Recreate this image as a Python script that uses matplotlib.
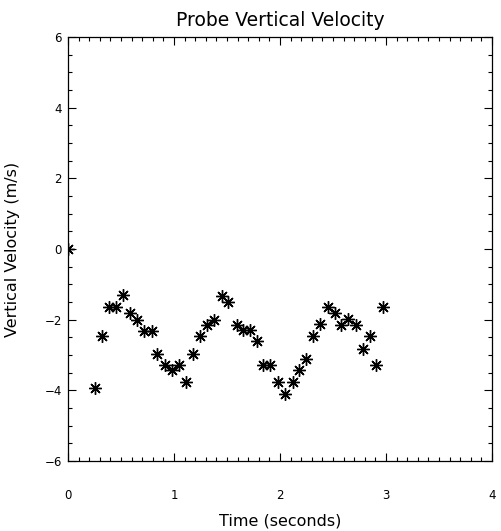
import matplotlib
matplotlib.use('Agg')
import matplotlib.pyplot as plt
from matplotlib.ticker import MultipleLocator

# time (s) and vertical velocity (m/s)
time_s = [0.0, 0.255, 0.318, 0.39, 0.453, 0.52, 0.585, 0.654, 0.72, 0.79,
          0.843, 0.915, 0.978, 1.047, 1.113, 1.18, 1.245, 1.314, 1.377, 1.45,
          1.512, 1.59, 1.648, 1.717, 1.78, 1.84, 1.91, 1.98, 2.05, 2.12,
          2.18, 2.25, 2.31, 2.38, 2.45, 2.516, 2.58, 2.645, 2.714, 2.78,
          2.85, 2.91, 2.975]
velocity = [0.0, -3.92, -2.46, -1.64, -1.64, -1.30, -1.81, -2.01, -2.32, -2.32,
            -2.96, -3.27, -3.43, -3.27, -3.76, -2.96, -2.47, -2.16, -2.0, -1.32,
            -1.49, -2.14, -2.30, -2.30, -2.61, -3.29, -3.29, -3.76, -4.11, -3.76,
            -3.43, -3.10, -2.47, -2.13, -1.65, -1.81, -2.14, -1.97, -2.14, -2.82,
            -2.46, -3.29, -1.65]

x_ticks = [0, 1, 2, 3, 4]
y_ticks = [-6, -4, -2, 0, 2, 4, 6]

fig = plt.figure(figsize=(5.02, 5.31), dpi=100)
ax = fig.add_axes([68/502, 70/531, 424/502, 424/531])

line, = ax.plot(time_s, velocity, linestyle='none', marker=(8, 2, 0),
                markersize=9, markeredgewidth=1.0, color='black')
# clip the half marker sitting on the left axis
line.set_clip_path(ax.patch)

ax.set_xlim(0, 4)
ax.set_ylim(-6, 6)
ax.set_xticks(x_ticks)
ax.set_yticks(y_ticks)
ax.xaxis.set_minor_locator(MultipleLocator(0.1))
ax.yaxis.set_minor_locator(MultipleLocator(0.5))
ax.tick_params(which='both', direction='in', top=True, right=True,
               width=0.8, color='black', labelsize=8.5)
ax.tick_params(which='major', length=6)
ax.tick_params(which='minor', length=3)
ax.tick_params(axis='x', pad=20)
ax.tick_params(axis='y', pad=4.5)

for s in ax.spines.values():
    s.set_linewidth(0.9)

ax.set_title('Probe Vertical Velocity', fontsize=13.5, pad=8)
ax.set_xlabel('Time (seconds)', fontsize=11.5)
ax.set_ylabel('Vertical Velocity (m/s)', fontsize=11.5)
ax.xaxis.set_label_coords(0.5, -0.1415)
ax.xaxis.label.set_va('center')
ax.yaxis.set_label_coords(-0.132, 0.5)
ax.yaxis.label.set_va('center')
ax.yaxis.label.set_ha('center')

fig.savefig('out.png', dpi=100)
